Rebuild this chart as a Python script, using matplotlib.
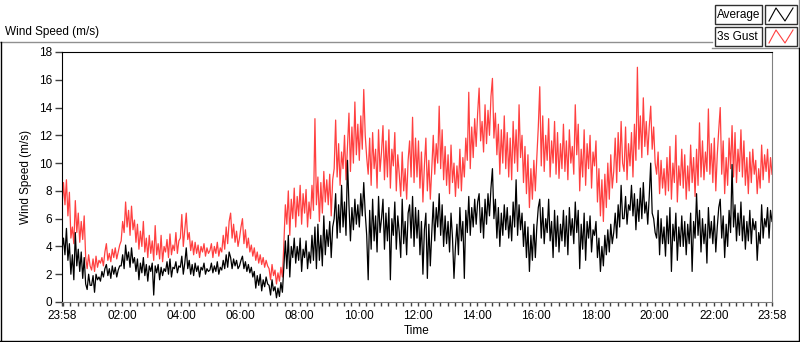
import numpy as np
import matplotlib
matplotlib.use("Agg")
from matplotlib import pyplot as plt
from matplotlib.lines import Line2D
from matplotlib.patches import Rectangle

plt.rcParams['font.family'] = ['Liberation Sans', 'DejaVu Sans']

# 3 minute samples starting 23:58, one row per hour
gust = [
    6.8, 8.6, 7.0, 8.8, 6.2, 7.9, 4.6, 5.4, 4.2, 7.3, 5.0, 6.4, 4.3, 5.8, 4.5, 6.2, 3.2, 2.4, 3.4, 2.6,
    2.3, 3.1, 2.2, 3.3, 2.5, 3.0, 2.8, 3.2, 2.6, 3.6, 4.2, 3.0, 3.5, 2.9, 3.8, 3.2, 3.9, 3.1, 3.6, 4.1,
    4.4, 5.8, 5.0, 7.2, 5.4, 6.6, 4.8, 6.9, 5.2, 5.9, 4.3, 5.6, 3.8, 5.1, 4.0, 5.8, 3.6, 4.6, 3.2, 4.8,
    3.5, 4.4, 3.0, 5.5, 3.4, 4.2, 3.1, 4.8, 2.9, 4.0, 3.6, 4.5, 3.2, 4.9, 3.4, 4.1, 3.7, 5.0, 3.5, 4.4,
    4.6, 6.3, 4.0, 5.2, 6.4, 4.5, 5.0, 3.7, 4.4, 3.4, 4.3, 3.5, 4.1, 3.2, 4.0, 3.6, 4.2, 3.3, 3.9, 3.5,
    3.7, 4.2, 3.2, 4.0, 3.5, 4.3, 3.3, 3.9, 3.6, 4.8, 3.8, 5.4, 4.2, 5.8, 6.4, 4.6, 5.6, 4.3, 5.1, 4.0,
    4.6, 5.4, 6.0, 4.2, 5.2, 3.9, 4.6, 3.6, 4.1, 3.3, 3.9, 3.0, 3.6, 2.8, 3.4, 2.7, 3.2, 2.5, 3.0, 2.6,
    2.4, 1.6, 2.7, 1.9, 2.3, 1.3, 2.1, 1.5, 2.5, 1.8, 4.2, 7.0, 5.6, 8.0, 4.8, 7.4, 6.0, 8.2, 5.4, 7.6,
    6.2, 8.4, 5.6, 7.8, 6.4, 8.1, 5.4, 7.2, 6.0, 8.4, 6.6, 13.2, 7.0, 9.0, 5.8, 8.6, 6.4, 9.4, 7.2, 8.8,
    7.0, 9.2, 6.2, 8.8, 9.6, 13.1, 9.0, 11.4, 8.4, 10.8, 9.6, 12.0, 8.8, 11.2, 13.6, 9.4, 12.6, 10.0, 14.4, 10.6,
    12.8, 10.2, 13.4, 11.0, 15.3, 12.0, 10.4, 9.2, 11.8, 8.4, 12.2, 9.6, 11.0, 8.2, 12.4, 9.4, 10.8, 12.7, 8.8, 11.6,
    9.0, 12.4, 8.2, 11.0, 9.8, 12.2, 8.0, 10.6, 9.2, 7.6, 10.8, 8.0, 9.6, 7.4, 10.2, 11.6, 9.0, 13.3, 8.6, 11.8,
    9.0, 11.6, 8.2, 10.8, 7.2, 9.8, 11.8, 8.0, 10.2, 7.4, 9.6, 12.0, 9.2, 11.4, 10.0, 14.1, 9.6, 12.4, 8.8, 11.2,
    8.4, 10.6, 7.8, 11.3, 8.6, 10.0, 7.6, 9.8, 8.2, 11.0, 8.0, 10.4, 9.0, 11.8, 10.2, 15.1, 9.6, 12.6, 10.4, 13.2,
    11.2, 13.6, 15.4, 11.6, 13.0, 10.8, 14.2, 11.4, 13.8, 12.0, 14.8, 16.1, 11.8, 13.6, 10.6, 12.8, 9.2, 12.4, 10.0, 13.4,
    9.6, 12.2, 9.0, 11.8, 8.8, 13.0, 10.0, 12.4, 9.4, 14.2, 10.4, 12.0, 8.6, 11.2, 7.8, 10.6, 6.8, 9.6, 7.4, 10.2,
    8.0, 10.4, 12.6, 15.5, 9.8, 13.4, 9.4, 12.0, 10.2, 13.2, 9.0, 11.6, 10.0, 13.0, 9.2, 12.2, 8.9, 11.4, 9.6, 12.8,
    9.4, 11.6, 8.8, 12.4, 10.0, 11.2, 9.2, 14.2, 10.6, 12.8, 8.0, 11.0, 9.0, 12.4, 8.4, 11.4, 9.6, 12.0, 8.2, 10.8,
    9.8, 11.6, 7.2, 9.6, 6.2, 8.8, 5.8, 9.2, 6.8, 10.0, 7.4, 10.6, 8.2, 9.4, 11.8, 8.6, 12.2, 9.4, 13.0, 10.0,
    9.4, 12.6, 8.8, 11.4, 9.8, 12.2, 9.0, 12.8, 10.2, 16.9, 11.0, 13.4, 10.4, 14.7, 11.2, 13.0, 10.6, 12.6, 14.1, 11.0,
    12.6, 10.0, 9.2, 10.8, 7.8, 10.2, 8.2, 9.6, 7.7, 10.4, 8.0, 11.2, 7.4, 10.0, 8.6, 12.0, 7.2, 9.8, 8.4, 11.0,
    8.2, 10.6, 7.4, 9.8, 8.0, 11.3, 8.6, 10.4, 7.6, 11.0, 8.4, 12.9, 9.0, 11.6, 8.8, 10.8, 9.4, 13.9, 9.2, 11.4,
    8.6, 11.8, 8.0, 10.6, 12.4, 14.0, 9.2, 11.6, 7.8, 10.4, 8.4, 11.8, 9.6, 12.7, 9.0, 12.2, 8.6, 11.0, 9.4, 12.4,
    9.0, 11.6, 8.4, 10.4, 7.8, 10.8, 8.6, 11.0, 9.2, 10.2, 7.8, 9.6, 8.2, 11.3, 8.8, 10.6, 9.4, 11.0, 8.6, 10.4,
    9.2,
]

average = [
    3.8, 4.6, 3.4, 5.3, 3.0, 4.2, 2.0, 3.4, 1.6, 5.0, 2.6, 3.8, 2.2, 3.6, 1.7, 3.2, 1.3, 0.9, 2.0, 1.2,
    1.2, 1.9, 0.7, 2.0, 1.6, 1.8, 1.5, 2.2, 1.8, 2.4, 2.7, 1.9, 2.4, 1.7, 2.6, 2.0, 2.5, 1.8, 2.3, 2.6,
    2.6, 3.4, 2.4, 4.1, 3.0, 3.6, 2.5, 3.9, 2.8, 3.2, 2.2, 3.1, 1.6, 2.8, 2.1, 3.2, 1.9, 2.7, 1.5, 2.6,
    2.2, 2.8, 0.5, 2.6, 2.1, 2.7, 1.6, 2.5, 1.9, 2.4, 2.2, 2.9, 2.0, 3.1, 1.8, 2.5, 2.4, 2.9, 2.1, 2.6,
    2.5, 3.3, 2.0, 2.8, 3.9, 2.4, 3.0, 2.0, 2.7, 1.9, 2.8, 2.2, 2.6, 1.8, 2.5, 2.3, 2.8, 2.0, 2.4, 2.2,
    2.3, 2.8, 2.1, 2.6, 2.2, 2.9, 2.0, 2.5, 2.3, 3.0, 2.4, 3.4, 2.5, 3.6, 3.2, 2.4, 3.1, 2.6, 3.0, 2.4,
    2.6, 3.0, 3.3, 2.4, 2.9, 2.2, 2.7, 2.1, 2.5, 1.8, 2.2, 1.0, 1.9, 1.2, 2.0, 0.8, 1.6, 1.1, 1.8, 1.3,
    1.2, 0.5, 1.6, 0.8, 1.1, 0.3, 1.0, 0.4, 1.4, 0.7, 2.6, 4.4, 2.4, 4.8, 1.8, 4.0, 3.2, 4.6, 2.8, 4.0,
    3.0, 4.6, 2.2, 3.8, 3.2, 4.4, 2.4, 3.6, 2.8, 4.8, 3.0, 5.4, 2.4, 5.6, 3.0, 4.8, 2.6, 6.2, 3.4, 5.2,
    4.0, 5.8, 3.2, 5.4, 6.0, 7.8, 4.6, 7.0, 5.0, 8.4, 5.4, 7.2, 4.8, 10.2, 7.0, 4.4, 6.8, 5.2, 7.4, 5.6,
    7.0, 5.4, 7.8, 6.2, 8.6, 6.4, 4.8, 1.6, 6.6, 3.8, 7.4, 4.4, 6.2, 3.6, 7.6, 5.0, 6.0, 7.4, 3.8, 6.4,
    4.4, 6.8, 1.6, 6.0, 4.8, 7.2, 3.8, 6.2, 5.0, 3.2, 7.4, 4.2, 5.8, 3.4, 6.4, 7.0, 4.6, 7.6, 4.0, 6.8,
    4.6, 6.6, 3.4, 5.8, 2.0, 5.2, 6.4, 1.7, 5.6, 2.6, 5.0, 7.2, 4.4, 6.8, 5.4, 7.8, 4.8, 7.0, 4.0, 6.2,
    4.2, 5.8, 3.6, 6.4, 4.6, 1.7, 4.0, 5.6, 3.4, 6.8, 4.4, 5.8, 1.7, 6.6, 5.0, 7.6, 4.8, 6.8, 5.4, 7.4,
    5.6, 7.2, 7.8, 5.0, 6.8, 4.6, 7.4, 5.6, 7.8, 6.2, 8.2, 9.6, 6.0, 7.4, 4.6, 6.8, 4.0, 6.4, 4.8, 7.0,
    5.2, 6.8, 4.6, 6.2, 4.4, 7.2, 5.4, 8.8, 4.8, 7.0, 5.2, 6.4, 4.0, 5.8, 3.2, 5.4, 2.2, 4.8, 3.0, 5.6,
    3.2, 5.4, 6.8, 7.4, 4.6, 6.8, 4.2, 6.0, 5.0, 7.4, 4.4, 5.8, 3.2, 6.6, 4.0, 6.2, 3.6, 5.6, 4.4, 6.6,
    4.0, 6.2, 3.4, 6.8, 4.8, 6.0, 4.2, 7.2, 5.0, 6.6, 2.4, 5.6, 3.8, 6.4, 3.0, 5.8, 4.6, 6.2, 3.6, 5.2,
    4.8, 5.8, 3.2, 4.6, 2.2, 4.0, 2.6, 4.8, 3.4, 5.2, 3.6, 5.6, 4.2, 5.0, 6.4, 4.6, 7.0, 5.4, 8.4, 6.0,
    6.0, 7.6, 5.6, 7.0, 6.6, 8.4, 6.2, 7.8, 5.2, 7.4, 5.8, 8.2, 6.0, 8.6, 6.4, 7.2, 5.6, 7.6, 10.0, 6.4,
    6.0, 5.0, 4.6, 6.6, 3.4, 6.0, 4.2, 5.4, 3.3, 6.2, 4.2, 6.8, 2.2, 5.6, 4.4, 6.4, 3.0, 5.4, 4.0, 6.2,
    4.0, 5.8, 3.4, 5.6, 4.2, 6.4, 2.2, 5.8, 4.6, 7.8, 4.8, 6.6, 3.6, 6.0, 4.2, 5.6, 2.8, 6.8, 4.6, 5.8,
    4.2, 6.2, 3.6, 5.4, 6.8, 7.4, 4.6, 6.2, 3.2, 5.6, 4.0, 6.6, 5.0, 9.9, 5.4, 7.0, 4.4, 6.4, 4.8, 7.2,
    4.4, 6.2, 3.8, 5.8, 4.4, 6.6, 4.2, 6.0, 5.2, 5.8, 3.0, 5.0, 4.2, 7.0, 4.6, 6.0, 5.4, 6.8, 4.6, 6.6,
    5.8,
]

sample_minutes = 3
tick_labels = ["23:58", "02:00", "04:00", "06:00", "08:00", "10:00", "12:00",
               "14:00", "16:00", "18:00", "20:00", "22:00", "23:58"]

W, H = 800, 342
fig = plt.figure(figsize=(W / 100, H / 100), dpi=100)

def fx(x):
    return x / W

def fy(y):
    return 1 - y / H

ax = fig.add_axes([fx(62), fy(302), fx(772) - fx(62), fy(52) - fy(302)])

t = np.arange(len(gust)) * sample_minutes / 60.0
ax.plot(t, gust, color='#ff4040', lw=0.9)
ax.plot(t, average, color='black', lw=0.9)

ax.set_xlim(0, 24)
ax.set_ylim(0, 18)
ax.set_yticks(np.arange(0, 19, 2))
major = [0] + [2 + 2 / 60 + 2 * k for k in range(11)] + [24]
ax.set_xticks(major)
ax.set_xticklabels(tick_labels)
ax.set_xticks([2 / 60 + 0.25 * k for k in range(96)], minor=True)
ax.tick_params(axis='y', length=5, width=1, labelsize=8.5, pad=2, color='#404040')
ax.tick_params(axis='x', which='both', length=3, width=1, labelsize=8.5, pad=3, color='#404040')
for s in ['left', 'top']:
    ax.spines[s].set_color('black')
for s in ['bottom', 'right']:
    ax.spines[s].set_color('#808080')
ax.set_xlabel("Time", fontsize=8.5, labelpad=2)
ax.set_ylabel("Wind Speed (m/s)", fontsize=8.5, labelpad=5)

# panel frame
fig.add_artist(Line2D([fx(0), fx(712)], [fy(42), fy(42)], color='#909090', lw=1))
fig.add_artist(Line2D([fx(712), fx(799)], [fy(48), fy(48)], color='#909090', lw=1))
fig.add_artist(Line2D([fx(798.5), fx(798.5)], [fy(0), fy(48)], color='#909090', lw=1))
fig.add_artist(Line2D([fx(0.5), fx(0.5)], [fy(42), fy(341)], color='black', lw=1))
fig.add_artist(Line2D([fx(0), fx(799)], [fy(340.5), fy(340.5)], color='black', lw=1))
fig.add_artist(Line2D([fx(798.5), fx(798.5)], [fy(48), fy(341)], color='black', lw=1))
fig.text(fx(5), fy(32), "Wind Speed (m/s)", fontsize=8.5, va='center', ha='left')

# legend
legend_rows = [("Average", 'black', 5), ("3s Gust", '#ff4040', 27)]
for name, col, y0 in legend_rows:
    fig.add_artist(Rectangle((fx(715), fy(y0 + 19)), fx(47), fy(0) - fy(19),
                             fill=False, ec='#303030', lw=1))
    fig.add_artist(Rectangle((fx(765), fy(y0 + 19)), fx(32), fy(0) - fy(19),
                             fill=False, ec='#303030', lw=1))
    fig.text(fx(717), fy(y0 + 10), name, fontsize=8.5, va='center', ha='left')
    zx = [769, 776, 785, 793]
    zy = [y0 + 16, y0 + 3, y0 + 16, y0 + 3]
    fig.add_artist(Line2D([fx(v) for v in zx], [fy(v) for v in zy], color=col, lw=0.8))

fig.savefig("out.png", dpi=100)
